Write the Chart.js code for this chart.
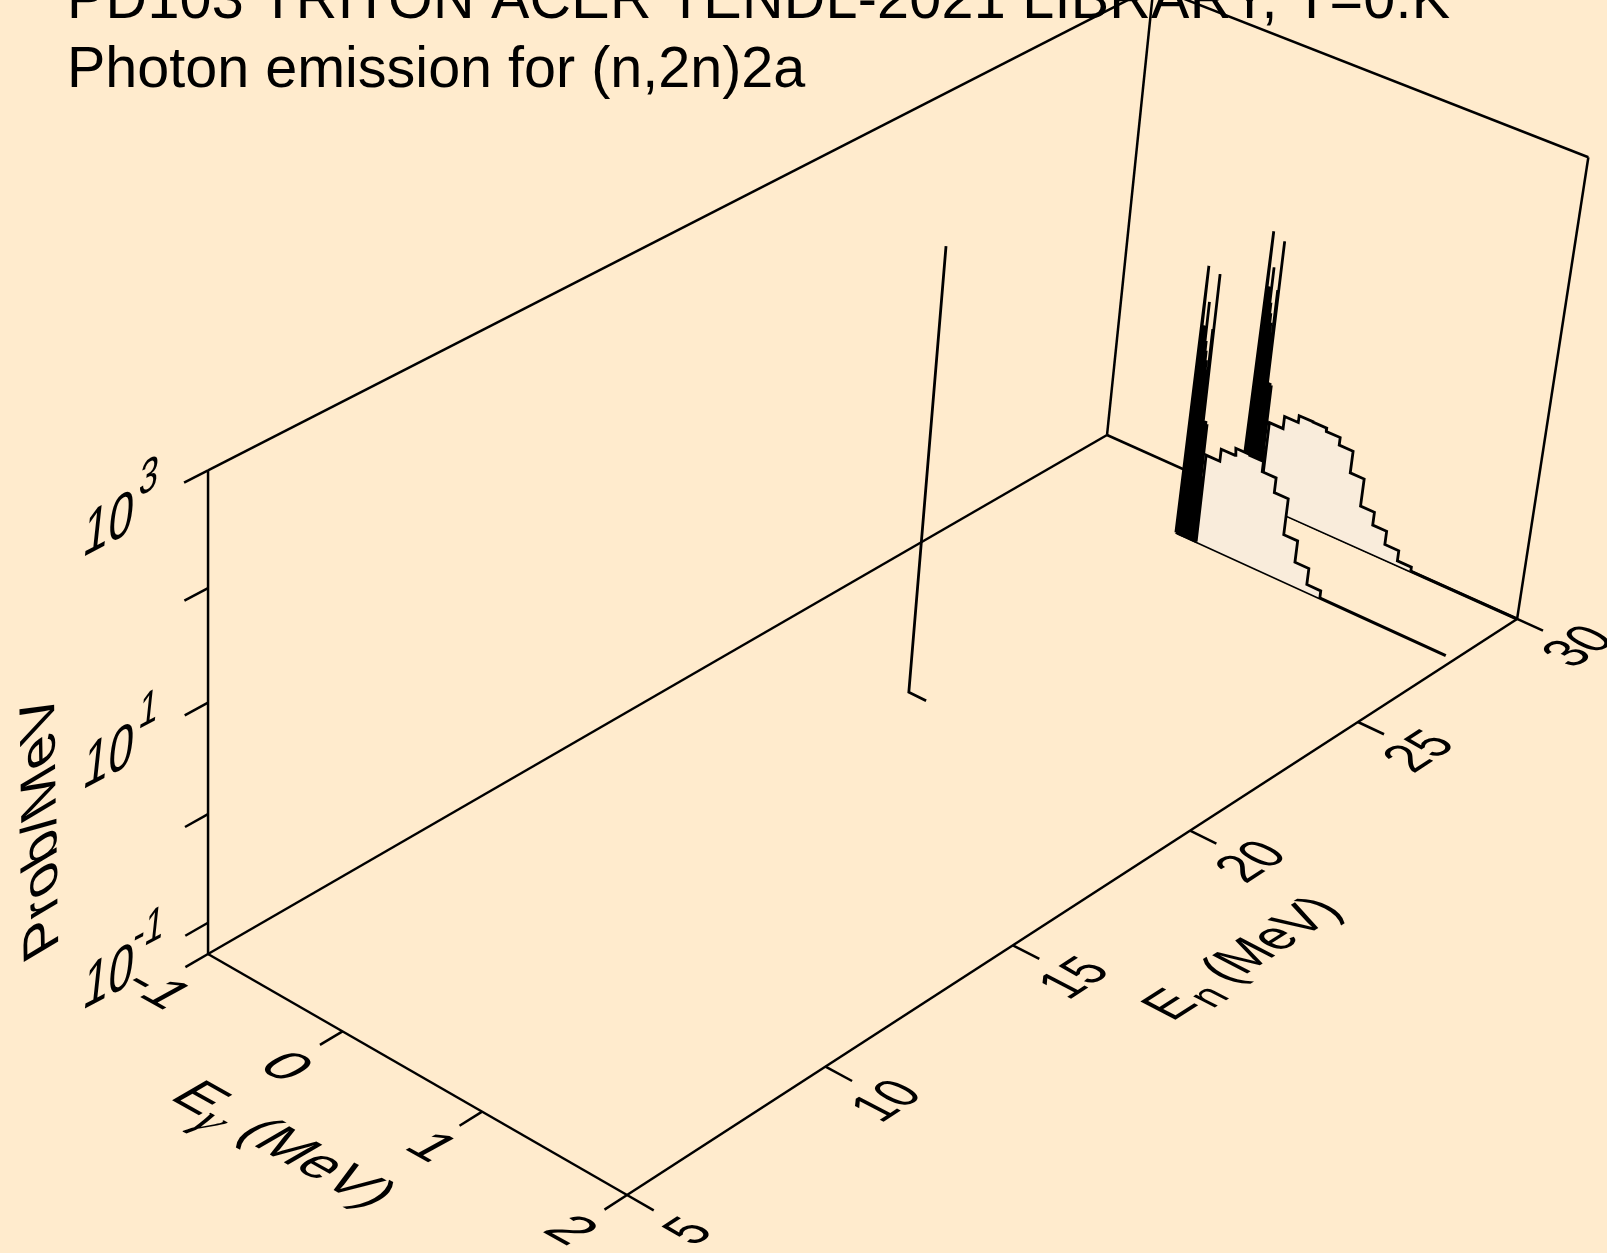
<!DOCTYPE html>
<html>
<head>
<meta charset="utf-8">
<title>Photon emission for (n,2n)2a</title>
<script src="https://cdn.jsdelivr.net/npm/chart.js@4"></script>
<style>
html, body { margin: 0; padding: 0; background: #ffebcd; overflow: hidden; }
canvas { display: block; }
</style>
</head>
<body>
<canvas id="chart" width="1607" height="1253"></canvas>
<script>
const titleLines = ['PD103 TRITON ACER TENDL-2021 LIBRARY, T=0.K', 'Photon emission for (n,2n)2a'];

// axis ticks
const gammaTicks = [-1, 0, 1, 2];
const neutronTicks = [5, 10, 15, 20, 25, 30];
const probTicks = [0.1, 1, 10, 100, 1000];
const probLabelValues = [0.1, 10, 1000];
const probLabelExponents = ['-1', '1', '3'];

// box limits
const gammaRange = [-1, 2];
const neutronRange = [5, 30];
const probRange = [0.051, 1000];

// spectrum at En = 20
const gamma20 = [0.127, 0, 0];
const prob20 = [0.051, 0.051, 660];

// discrete lines at En = 28 and En = 30
const combGamma = [0.02, 0.028, 0.036, 0.044, 0.052, 0.06, 0.068, 0.076, 0.084, 0.096, 0.103, 0.112, 0.122, 0.132, 0.142];
const combProb28 = [19.2, 5.4, 5.4, 5.4, 9.2, 4.0, 3.25, 2.67, 2.19, 5.4, 17.9, 0.74, 0.74, 0.70, 0.204];
const combProb30 = [18.5, 5.65, 5.65, 5.65, 8.8, 4.1, 3.3, 2.7, 2.2, 5.65, 16.5, 0.75, 0.75, 0.72, 0.17];

// histogram part
const binEdges28 = [0.15, 0.25, 0.35, 0.45, 0.55, 0.65, 0.75, 0.85, 0.95, 1.05];
const binProb28 = [0.36, 0.47, 0.55, 0.54, 0.43, 0.31, 0.139, 0.086, 0.060];
const binEdges30 = [0.15, 0.25, 0.35, 0.45, 0.55, 0.65, 0.75, 0.85, 0.95, 1.05, 1.15, 1.25];
const binProb30 = [0.32, 0.42, 0.49, 0.485, 0.45, 0.38, 0.234, 0.127, 0.095, 0.0705, 0.056];

const baseEnd28 = 1.94;
const baseEnd30 = 2;

// perspective of the 3d box
function project(eg, en, prob) {
    const logFloor = Math.log10(probRange[0]);
    const u = (eg - gammaRange[0]) / (gammaRange[1] - gammaRange[0]);
    const v = (en - neutronRange[0]) / (neutronRange[1] - neutronRange[0]);
    const w = (Math.log10(Math.max(prob, probRange[0])) - logFloor) / (Math.log10(probRange[1]) - logFloor);
    const den = -0.0543 * u + 0.1398 * v - 0.056 * w + 1;
    return {
        x: (385 * u + 1053.8 * v - 11.6 * w + 208) / den,
        y: (176.1 * u - 458.2 * v - 510 * w + 954) / den
    };
}

const floorProb = probRange[0];
const axisWidth = 2.5;
const curveWidth = 2.8;

function lineSet(points, width, fillColor) {
    return {
        data: points,
        showLine: true,
        borderColor: '#000',
        borderWidth: width,
        borderJoinStyle: 'miter',
        backgroundColor: fillColor || 'transparent',
        fill: fillColor ? 'shape' : false,
        pointRadius: 0,
        tension: 0,
        clip: false
    };
}

function segment(a, b, width) {
    return lineSet([project(a[0], a[1], a[2]), project(b[0], b[1], b[2])], width);
}

function combPoints(en, probs) {
    // first line rises straight from the start of the floor line
    const pts = [project(0, en, floorProb)];
    combGamma.forEach((e, i) => {
        if (i > 0) pts.push(project(e, en, floorProb));
        pts.push(project(e, en, probs[i]));
        pts.push(project(e, en, floorProb));
    });
    return pts;
}

function histPoints(en, edges, probs) {
    const pts = [project(edges[0], en, floorProb)];
    probs.forEach((p, i) => {
        pts.push(project(edges[i], en, p));
        pts.push(project(edges[i + 1], en, p));
    });
    pts.push(project(edges[edges.length - 1], en, floorProb));
    return pts;
}

// Chart.js paints the last dataset first, so list from front to back
const frame = [];
const [eMin, eMax] = gammaRange;
const [nMin, nMax] = neutronRange;
const [pMin, pMax] = probRange;
frame.push(segment([eMin, nMin, pMin], [eMax, nMin, pMin], axisWidth));
frame.push(segment([eMax, nMin, pMin], [eMax, nMax, pMin], axisWidth));
frame.push(segment([eMin, nMin, pMin], [eMin, nMax, pMin], axisWidth));
frame.push(segment([eMin, nMax, pMin], [eMax, nMax, pMin], axisWidth));
frame.push(segment([eMin, nMin, pMin], [eMin, nMin, pMax], axisWidth));
frame.push(segment([eMin, nMax, pMin], [eMin, nMax, pMax], axisWidth));
frame.push(segment([eMax, nMax, pMin], [eMax, nMax, pMax], axisWidth));
frame.push(segment([eMin, nMin, pMax], [eMin, nMax, pMax], axisWidth));
frame.push(segment([eMin, nMax, pMax], [eMax, nMax, pMax], axisWidth));
gammaTicks.forEach(e => frame.push(segment([e, nMin, pMin], [e, 4.45, pMin], axisWidth)));
neutronTicks.forEach(n => frame.push(segment([eMax, n, pMin], [2.18, n, pMin], axisWidth)));
probTicks.forEach(p => frame.push(segment([eMin, nMin, p], [eMin, 4.45, p], axisWidth)));

const histFill = '#f9ecdb';
const datasets = [
    lineSet(combPoints(28, combProb28), curveWidth),
    lineSet(histPoints(28, binEdges28, binProb28), curveWidth, histFill),
    segment([0, 28, pMin], [baseEnd28, 28, pMin], 3.2),
    lineSet(combPoints(30, combProb30), curveWidth),
    lineSet(histPoints(30, binEdges30, binProb30), curveWidth, histFill),
    segment([0, 30, pMin], [baseEnd30, 30, pMin], 3.2),
    lineSet(gamma20.map((e, i) => project(e, 20, prob20[i])), curveWidth)
].concat(frame);

function skewText(ctx, text, x, y, m, scale) {
    ctx.save();
    ctx.transform(m[0] * scale, m[1] * scale, m[2] * scale, m[3] * scale, x, y);
    ctx.font = '100px "Liberation Sans"';
    ctx.fillText(text, 0, 36);
    ctx.restore();
}

const neutronMatrix = [0.40, -0.26, 0.51, 0.265];
const neutronTitleMatrix = [0.42, -0.27, 0.51, 0.265];
const gammaMatrix = [0.52, 0.29, -0.50, 0.275];
const probMatrix = [0.45, -0.235, -0.07, 0.65];
const yTitleMatrix = [-0.01, -0.58, 0.50, -0.30];

const textPlugin = {
    id: 'boxText',
    afterDatasetsDraw(chart) {
        const ctx = chart.ctx;
        ctx.save();
        ctx.fillStyle = '#000';
        ctx.textBaseline = 'alphabetic';

        // title, the first line runs off the top of the page
        ctx.textAlign = 'left';
        ctx.font = '57.5px "Liberation Sans"';
        ctx.letterSpacing = '0.25px';
        ctx.fillText(titleLines[0], 67, 18);
        ctx.letterSpacing = '0px';
        ctx.fillText(titleLines[1], 67, 87);

        ctx.textAlign = 'center';
        neutronTicks.forEach(n => {
            const p = project(eMax, n, pMin);
            // labels sit a little further out at the near end of the box
            skewText(ctx, String(n), p.x + 59, p.y + 35 - (n - 5) * 0.35, neutronMatrix, 1);
        });
        gammaTicks.forEach(e => {
            const p = project(e, nMin, pMin);
            // the digit 1 sits left of its advance box
            const nudge = String(e).endsWith('1') ? 6 : 0;
            skewText(ctx, String(e), p.x - 54 + nudge, p.y + 34, gammaMatrix, 1);
        });
        probLabelValues.forEach((v, i) => {
            const p = project(eMin, nMin, v);
            const bx = p.x - 99, by = p.y + 51;
            skewText(ctx, '10', bx, by, probMatrix, 1);
            skewText(ctx, probLabelExponents[i], bx + 40, by - 47, probMatrix, 0.76);
        });

        skewText(ctx, 'Prob/MeV', 38, 828, yTitleMatrix, 1);

        // En (MeV) along the long floor edge
        ctx.textAlign = 'left';
        ctx.save();
        ctx.transform(neutronTitleMatrix[0], neutronTitleMatrix[1], neutronTitleMatrix[2], neutronTitleMatrix[3], 1172, 1022);
        ctx.font = '100px "Liberation Sans"';
        ctx.fillText('E', 0, 0);
        ctx.font = '80px "Liberation Sans"';
        ctx.fillText('n', 70, 22);
        ctx.font = '100px "Liberation Sans"';
        ctx.fillText(' (MeV)', 110, 0);
        ctx.restore();

        // Egamma (MeV) along the short floor edge
        ctx.save();
        ctx.transform(0.495, 0.275, -0.50, 0.29, 168, 1098);
        ctx.font = '100px "Liberation Sans"';
        ctx.fillText('E', 0, 0);
        ctx.font = 'italic 90px "Liberation Serif"';
        ctx.fillText('\u03b3', 68, 26);
        ctx.font = '100px "Liberation Sans"';
        ctx.fillText(' (MeV)', 106, 0);
        ctx.restore();

        ctx.restore();
    }
};

new Chart(document.getElementById('chart'), {
    type: 'scatter',
    data: { datasets },
    plugins: [textPlugin],
    options: {
        responsive: false,
        animation: false,
        devicePixelRatio: 1,
        layout: { padding: 0 },
        plugins: { legend: { display: false }, title: { display: false }, tooltip: { enabled: false } },
        scales: {
            x: { type: 'linear', display: false, min: 0, max: 1607 },
            y: { type: 'linear', display: false, min: 0, max: 1253, reverse: true }
        }
    }
});
</script>
</body>
</html>
